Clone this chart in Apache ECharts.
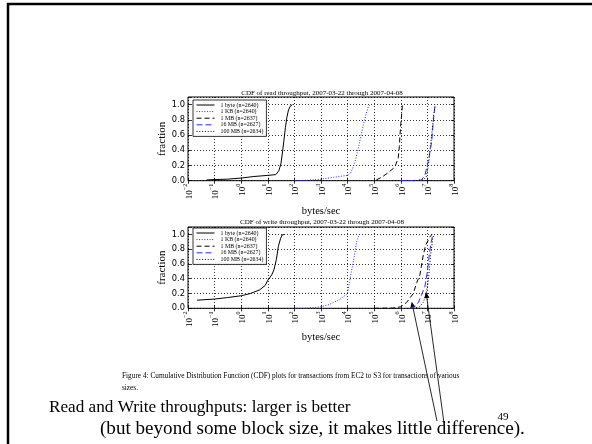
<!DOCTYPE html>
<html><head><meta charset="utf-8">
<script src="https://cdn.jsdelivr.net/npm/echarts/dist/echarts.min.js"></script>
<style>html,body{margin:0;padding:0;background:#fff}#c{width:592px;height:444px}</style>
</head><body><div id="c"></div>
<script>
// ---------- data ----------
const seriesNames = ['1 byte (n=2640)', '1 KB (n=2640)', '1 MB (n=2637)', '16 MB (n=2627)', '100 MB (n=2634)'];
const plotTitles = ['CDF of read throughput, 2007-03-22 through 2007-04-08', 'CDF of write throughput, 2007-03-22 through 2007-04-08'];
const xAxisName = 'bytes/sec';
const yAxisName = 'fraction';

const readOneByte = [[0.05,0.01],[0.1,0.015],[0.3,0.02],[1,0.035],[3,0.055],[10,0.07],[20,0.08],[22,0.09],[26,0.13],[31,0.22],[35,0.35],[40,0.52],[46,0.7],[52,0.83],[60,0.93],[70,0.98],[85,1.0]];
const readOneKB = [[100,0],[300,0.005],[1000,0.02],[3000,0.045],[10000,0.07],[13000,0.1],[17000,0.2],[20000,0.28],[25000,0.42],[30000,0.55],[40000,0.75],[50000,0.88],[60000,0.97],[70000,1.0]];
const readOneMB = [[120000,0.01],[200000,0.05],[350000,0.11],[600000,0.18],[800000,0.3],[880000,0.45],[933000,0.6],[1000000,0.75],[1070000,0.86],[1150000,0.99],[1200000,1.0]];
const read16MB = [[1e6,0],[3e6,0.002],[6e6,0.01],[8e6,0.07],[1.07e7,0.25],[1.45e7,0.51],[1.66e7,0.77],[1.9e7,0.97],[2e7,1.0]];
const read100MB = [[3e6,0],[7e6,0.01],[9e6,0.05],[1.1e7,0.2],[1.3e7,0.45],[1.5e7,0.65],[1.7e7,0.85],[2e7,1.0]];

const writeOneByte = [[0.022,0.11],[0.1,0.125],[0.3,0.145],[1,0.17],[2.2,0.2],[5,0.25],[8,0.31],[10,0.38],[14,0.45],[17,0.52],[21,0.66],[25,0.84],[30,0.94],[34,0.99],[42,1.0]];
const writeOneKB = [[100,0],[300,0.002],[1000,0.02],[2000,0.05],[5000,0.12],[10000,0.2],[12300,0.4],[16600,0.64],[21900,0.9],[27000,1.0]];
const writeOneMB = [[1e5,0],[5e5,0.003],[1e6,0.02],[1.66e6,0.08],[2.95e6,0.2],[4e6,0.35],[5.2e6,0.45],[7e6,0.72],[8.5e6,0.85],[1.07e7,0.92],[1.2e7,0.96],[1.5e7,1.0]];
const write16MB = [[2.2e6,0],[3.5e6,0.03],[4.6e6,0.08],[6e6,0.18],[8.1e6,0.3],[1e7,0.5],[1.2e7,0.75],[1.4e7,0.9],[1.6e7,1.0]];
const write100MB = [[3e6,0],[5e6,0.02],[7e6,0.08],[9e6,0.2],[1.1e7,0.4],[1.3e7,0.7],[1.6e7,0.95],[1.8e7,1.0]];

const arrowTargets = [[2.57e6, 0.09], [8.9e6, 0.22]];

const captionLines = ['Figure 4: Cumulative Distribution Function (CDF) plots for transactions from EC2 to S3 for transactions of various', 'sizes.'];
const slideLines = ['Read and Write throughputs: larger is better', '(but beyond some block size, it makes little difference).'];
const pageNumber = '49';

// ---------- styles ----------
const SERIF = '"Liberation Serif", "Times New Roman", serif';
const SANS = '"DejaVu Sans", sans-serif';
const lineStyles = [
  {color: '#000', type: 'solid'},
  {color: '#2a2aff', type: [1, 1.6]},
  {color: '#000', type: [5, 3]},
  {color: '#2a2aff', type: [6, 3]},
  {color: '#000', type: [1, 1.8]}
];
const readData = [readOneByte, readOneKB, readOneMB, read16MB, read100MB];
const writeData = [writeOneByte, writeOneKB, writeOneMB, write16MB, write100MB];

const grids = [
  {left: 188, right: 138, top: 97, height: 83.7},
  {left: 188, right: 138, top: 227, height: 81.3}
];

function xAxisBottom(gi) {
  return {
    type: 'log', logBase: 10, min: 0.01, max: 1e8, interval: 1, gridIndex: gi, position: 'bottom',
    name: xAxisName, nameLocation: 'middle', nameGap: gi === 0 ? 25 : 23,
    nameTextStyle: {fontFamily: SERIF, fontSize: 10.5, color: '#000'},
    axisLine: {show: false},
    axisTick: {show: true, inside: true, length: 3, lineStyle: {color: '#000', width: 0.8}},
    axisLabel: {
      show: true, rotate: 90, margin: 3, color: '#000',
      formatter: v => '{b|10}{s|' + String(Math.round(Math.log10(v))).replace('-', '\u2212') + '}',
      rich: {
        b: {fontFamily: SERIF, fontSize: 9, lineHeight: 12, verticalAlign: 'bottom', color: '#000'},
        s: {fontFamily: SERIF, fontSize: 6.2, lineHeight: 12, verticalAlign: 'top', color: '#000'}
      }
    },
    splitLine: {show: true, lineStyle: {color: '#000', type: [1, 2], width: 0.8}}
  };
}
function xAxisTop(gi) {
  return {
    type: 'log', logBase: 10, min: 0.01, max: 1e8, interval: 1, gridIndex: gi, position: 'top',
    axisLine: {show: false}, axisLabel: {show: false}, splitLine: {show: false},
    axisTick: {show: true, inside: true, length: 3, lineStyle: {color: '#000', width: 0.8}}
  };
}
function yAxisLeft(gi) {
  return {
    type: 'value', min: 0, max: 1.1, interval: 0.2, gridIndex: gi, position: 'left',
    name: yAxisName, nameLocation: 'middle', nameGap: 19,
    nameTextStyle: {fontFamily: SERIF, fontSize: 11, color: '#000'},
    axisLine: {show: false},
    axisTick: {show: true, inside: true, length: 3, lineStyle: {color: '#000', width: 0.8}},
    axisLabel: {show: true, margin: 3, color: '#000', fontFamily: SANS, fontSize: 8.3,
      formatter: v => v > 1.05 ? '' : v.toFixed(1)},
    splitLine: {show: true, lineStyle: {color: '#000', type: [1, 2], width: 0.8}}
  };
}
function yAxisRight(gi) {
  return {
    type: 'value', min: 0, max: 1.1, interval: 0.2, gridIndex: gi, position: 'right',
    axisLine: {show: false}, axisLabel: {show: false}, splitLine: {show: false},
    axisTick: {show: true, inside: true, length: 3, lineStyle: {color: '#000', width: 0.8}}
  };
}

const series = [];
[readData, writeData].forEach((set, gi) => {
  set.forEach((d, i) => {
    series.push({
      type: 'line', name: seriesNames[i], xAxisIndex: gi, yAxisIndex: gi, data: d,
      symbol: 'none', showSymbol: false, silent: true, animation: false,
      lineStyle: {width: 1, color: lineStyles[i].color, type: lineStyles[i].type},
      itemStyle: {color: lineStyles[i].color}
    });
  });
});

function legendFor(top) {
  return {
    show: true, orient: 'vertical', left: 193, top: top, data: seriesNames,
    selectedMode: false, backgroundColor: '#fff', borderColor: '#000', borderWidth: 0.8,
    padding: [2, 3, 2, 3], itemGap: 0.6, itemWidth: 18, itemHeight: 6,
    itemStyle: {opacity: 0},
    lineStyle: {width: 1},
    textStyle: {fontFamily: SERIF, fontSize: 5.9, color: '#000', lineHeight: 6, padding: [0, 0, 0, 1]}
  };
}

const slideGraphics = [
  {type: 'rect', shape: {x: 8, y: 4, width: 620, height: 480}, style: {fill: null, stroke: '#000', lineWidth: 2.5}, silent: true},
  {type: 'text', x: 322, y: 93, style: {text: plotTitles[0], font: '7px ' + SERIF, fill: '#000', align: 'center', verticalAlign: 'middle'}},
  {type: 'text', x: 322, y: 222, style: {text: plotTitles[1], font: '7px ' + SERIF, fill: '#000', align: 'center', verticalAlign: 'middle'}},
  {type: 'text', x: 122, y: 376, style: {text: captionLines[0], font: '7.3px ' + SERIF, fill: '#000', align: 'left', verticalAlign: 'middle'}},
  {type: 'text', x: 122, y: 388, style: {text: captionLines[1], font: '7.3px ' + SERIF, fill: '#000', align: 'left', verticalAlign: 'middle'}},
  {type: 'text', x: 49, y: 407, style: {text: slideLines[0], font: '17.2px ' + SERIF, fill: '#000', align: 'left', verticalAlign: 'middle'}},
  {type: 'text', x: 100, y: 429, style: {text: slideLines[1], font: '19.1px ' + SERIF, fill: '#000', align: 'left', verticalAlign: 'middle'}},
  {type: 'text', x: 503, y: 417, style: {text: pageNumber, font: '11px ' + SERIF, fill: '#000', align: 'center', verticalAlign: 'middle'}}
];

const chart = echarts.init(document.getElementById('c'), null, {renderer: 'canvas'});
chart.setOption({
  animation: false,
  backgroundColor: '#fff',
  grid: grids.map(g => Object.assign({show: true, borderColor: '#000', borderWidth: 1, backgroundColor: 'transparent'}, g)),
  xAxis: [xAxisBottom(0), xAxisBottom(1), xAxisTop(0), xAxisTop(1)],
  yAxis: [yAxisLeft(0), yAxisLeft(1), yAxisRight(0), yAxisRight(1)],
  legend: [legendFor(100), legendFor(228)],
  series: series,
  graphic: slideGraphics
});

// arrows pointing at the write curves
const arrowTails = [[437, 421], [444, 423]];
const arrowGraphics = arrowTargets.map((t, i) => {
  const p = chart.convertToPixel({seriesIndex: 5}, t);
  const tail = arrowTails[i];
  const dx = p[0] - tail[0], dy = p[1] - tail[1];
  const len = Math.sqrt(dx * dx + dy * dy);
  const ux = dx / len, uy = dy / len;
  const hl = 6, hw = 2.6;
  const bx = p[0] - ux * hl, by = p[1] - uy * hl;
  return {
    type: 'group', silent: true, children: [
      {type: 'line', shape: {x1: tail[0], y1: tail[1], x2: bx, y2: by}, style: {stroke: '#111', lineWidth: 0.9}},
      {type: 'polygon', shape: {points: [[p[0], p[1]], [bx - uy * hw, by + ux * hw], [bx + uy * hw, by - ux * hw]]}, style: {fill: '#000'}}
    ]
  };
});
chart.setOption({graphic: slideGraphics.concat(arrowGraphics)});
</script></body></html>
